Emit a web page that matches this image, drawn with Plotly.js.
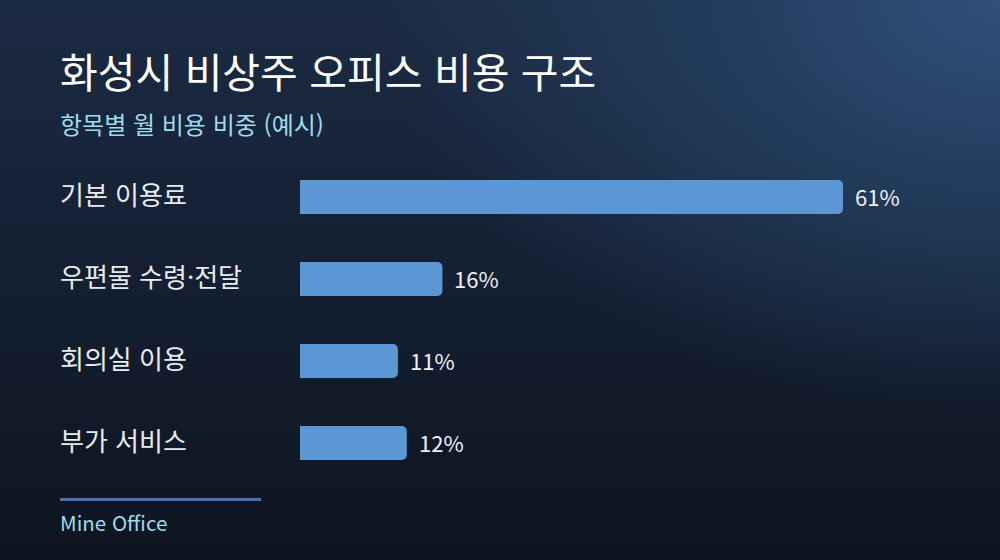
<!DOCTYPE html>
<html lang="ko">
<head>
<meta charset="utf-8">
<script src="https://cdn.plot.ly/plotly-3.0.1.min.js"></script>
<style>
  html, body { margin: 0; padding: 0; }
  body {
    width: 1000px; height: 560px; overflow: hidden;
    background:
      radial-gradient(ellipse 80% 95% at 100% 0%, #30507a 0%, #233c5c 35%, rgba(20,32,50,0) 78%),
      linear-gradient(180deg, #1c2b44 0%, #141f31 50%, #0d1520 100%);
  }
  #chart { width: 1000px; height: 560px; }
</style>
</head>
<body>
<div id="chart"></div>
<script>
// Monthly cost share by item (example values)
const categories = ['기본 이용료', '우편물 수령·전달', '회의실 이용', '부가 서비스'];
const shares = [61, 16, 11, 12];

const chartTitle = '화성시 비상주 오피스 비용 구조';
const chartSubtitle = '항목별 월 비용 비중 (예시)';
const footerText = 'Mine Office';

const labelFont = "'Noto Sans CJK KR', 'Noto Sans', sans-serif";
const leftX = -0.4035;

const trace = {
    type: 'bar',
    orientation: 'h',
    x: shares,
    y: categories,
    marker: { color: '#5b97d3', cornerradius: 5 },
    hoverinfo: 'skip'
};

// category names on the left, value labels after each bar
const annotations = [];
categories.forEach((c, i) => {
    annotations.push({
        xref: 'paper', yref: 'y',
        x: leftX, y: c, xanchor: 'left', yanchor: 'middle',
        yshift: 4,
        text: c, showarrow: false,
        font: { family: labelFont, size: 26, color: '#e8ebf0' }
    });
    annotations.push({
        xref: 'x', yref: 'y',
        x: shares[i], y: c, xanchor: 'left', yanchor: 'middle',
        xshift: 10, yshift: 1,
        text: shares[i] + '%', showarrow: false,
        font: { family: labelFont, size: 22, color: '#eef1f5' }
    });
});

// title, subtitle, footer
annotations.push({
    xref: 'paper', yref: 'paper', x: leftX, y: 1.262, xanchor: 'left', yanchor: 'middle',
    text: chartTitle, showarrow: false,
    font: { family: labelFont, size: 41, color: '#ffffff' }
});
annotations.push({
    xref: 'paper', yref: 'paper', x: leftX, y: 1.10, xanchor: 'left', yanchor: 'middle',
    text: chartSubtitle, showarrow: false,
    font: { family: labelFont, size: 24, color: '#9fdcef' }
});
annotations.push({
    xref: 'paper', yref: 'paper', x: leftX, y: -0.116, xanchor: 'left', yanchor: 'middle',
    text: footerText, showarrow: false,
    font: { family: labelFont, size: 20.5, color: '#9fdcef' }
});

const layout = {
    width: 1000,
    height: 560,
    margin: { l: 300, r: 100, t: 156, b: 76, pad: 0 },
    paper_bgcolor: 'rgba(0,0,0,0)',
    plot_bgcolor: 'rgba(0,0,0,0)',
    bargap: 0.585,
    showlegend: false,
    xaxis: {
        range: [0, 67.4],
        visible: false,
        fixedrange: true
    },
    yaxis: {
        autorange: 'reversed',
        showticklabels: false,
        showgrid: false,
        zeroline: false,
        fixedrange: true
    },
    shapes: [{
        type: 'line', xref: 'paper', yref: 'paper',
        x0: -0.4, x1: -0.065, y0: -0.047, y1: -0.047,
        line: { color: '#4a76a6', width: 3 }
    }],
    annotations: annotations
};

Plotly.newPlot('chart', [trace], layout, { displayModeBar: false, staticPlot: true });
</script>
</body>
</html>
